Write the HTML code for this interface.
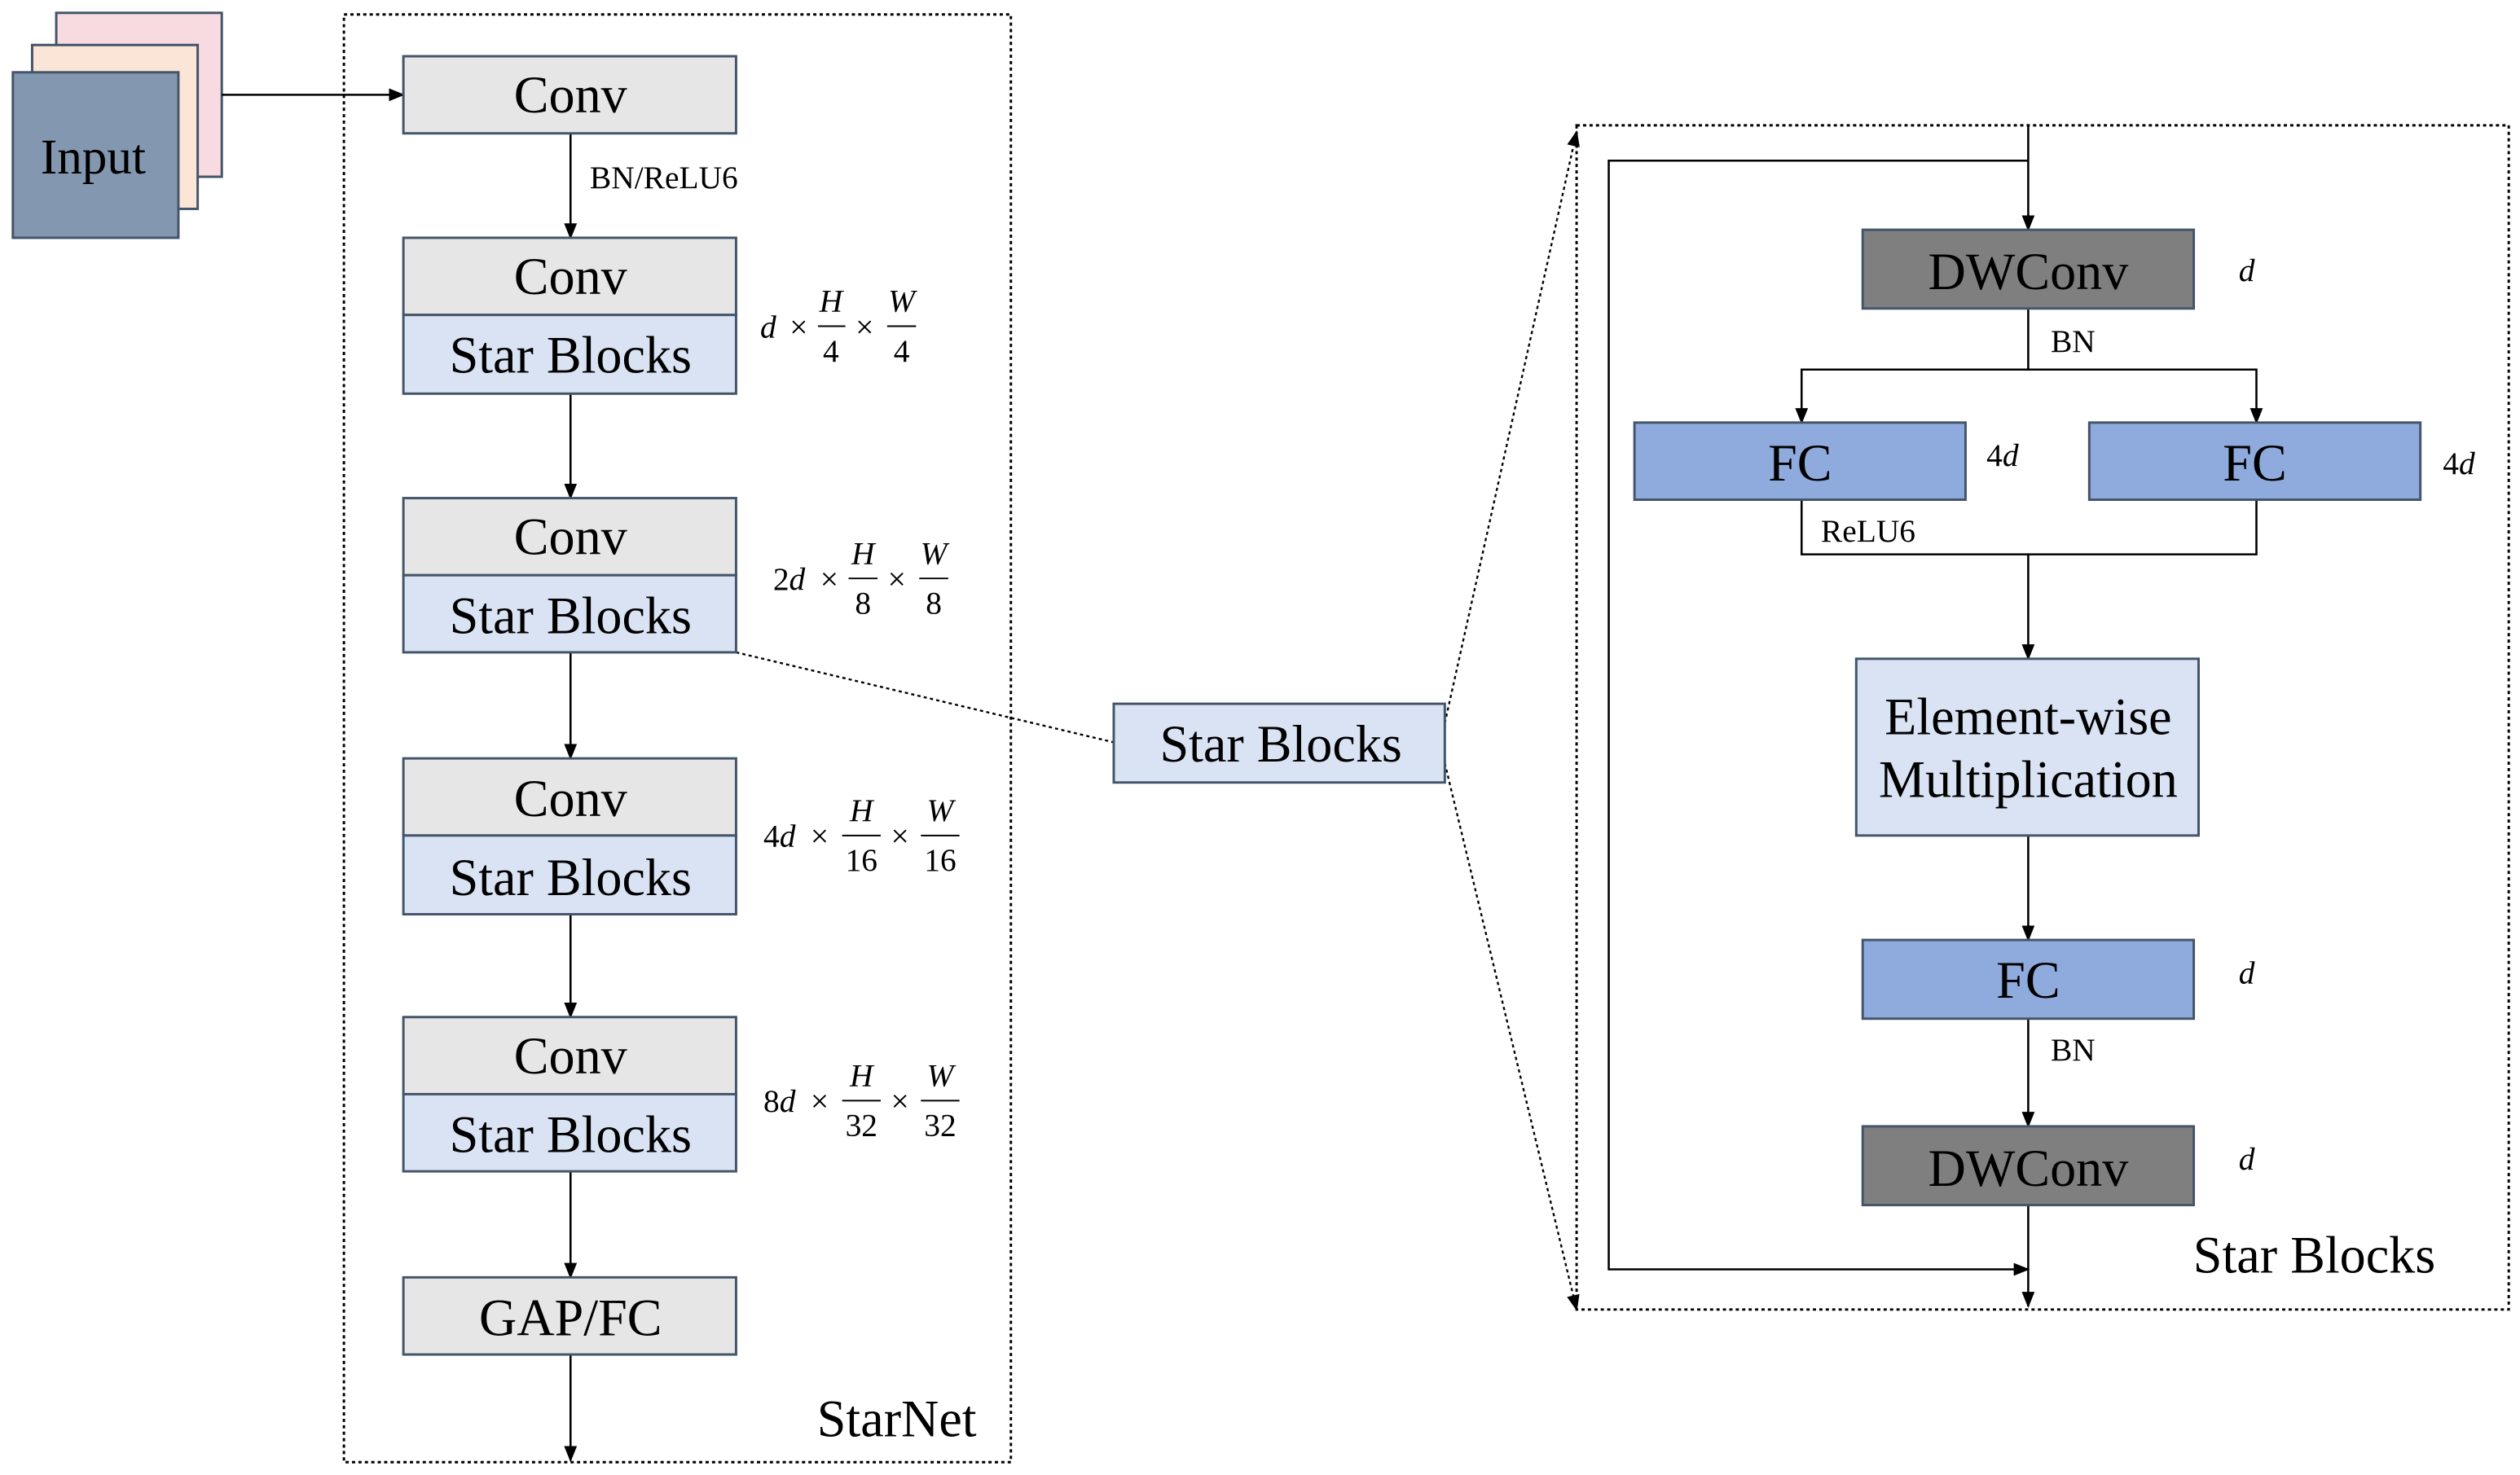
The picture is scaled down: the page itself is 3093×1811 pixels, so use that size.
<!DOCTYPE html>
<html><head><meta charset="utf-8"><style>html,body{margin:0;padding:0;background:#fff}svg{display:block}</style></head>
<body>
<svg width="3093" height="1811" viewBox="0 0 1568 918" preserveAspectRatio="none" xmlns="http://www.w3.org/2000/svg" font-family="Liberation Serif, serif">
<defs><marker id="a" markerWidth="10" markerHeight="10" refX="9" refY="5" orient="auto" markerUnits="userSpaceOnUse"><path d="M0,1 L10,5 L0,9 z" fill="#000"/></marker></defs>
<g stroke="#44546a" stroke-width="1.5">
<rect x="35" y="8" width="103" height="102" fill="#f8dbe1"/>
<rect x="20" y="28" width="103" height="102" fill="#fbe5d6"/>
<rect x="8" y="45" width="103" height="103" fill="#8497b0"/>
</g>
<text x="58" y="108" font-size="31" text-anchor="middle">Input</text>
<g stroke="#000" stroke-width="1.3" fill="none" marker-end="url(#a)">
<line x1="138" y1="59" x2="251" y2="59"/>
<line x1="355" y1="83" x2="355" y2="148"/>
<line x1="355" y1="245" x2="355" y2="310"/>
<line x1="355" y1="406" x2="355" y2="472"/>
<line x1="355" y1="569" x2="355" y2="633"/>
<line x1="355" y1="729" x2="355" y2="795"/>
<line x1="355" y1="843" x2="355" y2="909"/>
<line x1="1262" y1="78" x2="1262" y2="143"/>
<polyline points="1262,100 1001,100 1001,790 1262,790"/>
<polyline points="1262,192 1262,230 1121,230 1121,263"/>
<polyline points="1262,230 1404,230 1404,263"/>
<line x1="1262" y1="345" x2="1262" y2="410"/>
<line x1="1262" y1="520" x2="1262" y2="585"/>
<line x1="1262" y1="634" x2="1262" y2="701"/>
<line x1="1262" y1="750" x2="1262" y2="813"/>
</g>
<polyline points="1121,311 1121,345 1404,345 1404,311" stroke="#000" stroke-width="1.3" fill="none"/>
<rect x="214" y="9" width="415" height="901" fill="none" stroke="#000" stroke-width="1.5" stroke-dasharray="2,2"/>
<rect x="981" y="78" width="580" height="737" fill="none" stroke="#000" stroke-width="1.5" stroke-dasharray="2,2"/>
<g stroke="#000" stroke-width="1.2" stroke-dasharray="2,2" fill="none">
<line x1="458" y1="406" x2="693" y2="462"/>
<line x1="899" y1="450" x2="981" y2="82" marker-end="url(#a)"/>
<line x1="899" y1="475" x2="981" y2="815" marker-end="url(#a)"/>
</g>
<g stroke="#44546a" stroke-width="1.5">
<rect x="251" y="35" width="207" height="48" fill="#e7e6e6"/>
<rect x="251" y="148" width="207" height="48" fill="#e7e6e6"/><rect x="251" y="196" width="207" height="49" fill="#dae3f3"/>
<rect x="251" y="310" width="207" height="48" fill="#e7e6e6"/><rect x="251" y="358" width="207" height="48" fill="#dae3f3"/>
<rect x="251" y="472" width="207" height="48" fill="#e7e6e6"/><rect x="251" y="520" width="207" height="49" fill="#dae3f3"/>
<rect x="251" y="633" width="207" height="48" fill="#e7e6e6"/><rect x="251" y="681" width="207" height="48" fill="#dae3f3"/>
<rect x="251" y="795" width="207" height="48" fill="#e7e6e6"/>
<rect x="693" y="438" width="206" height="49" fill="#dae3f3"/>
<rect x="1159" y="143" width="206" height="49" fill="#7f7f7f"/>
<rect x="1017" y="263" width="206" height="48" fill="#8faadc"/>
<rect x="1300" y="263" width="206" height="48" fill="#8faadc"/>
<rect x="1155" y="410" width="213" height="110" fill="#dae3f3"/>
<rect x="1159" y="585" width="206" height="49" fill="#8faadc"/>
<rect x="1159" y="701" width="206" height="49" fill="#7f7f7f"/>
</g>
<g font-size="32.5" text-anchor="middle">
<text x="355" y="70">Conv</text>
<text x="355" y="183">Conv</text><text x="355" y="232">Star Blocks</text>
<text x="355" y="345">Conv</text><text x="355" y="394">Star Blocks</text>
<text x="355" y="508">Conv</text><text x="355" y="557">Star Blocks</text>
<text x="355" y="668">Conv</text><text x="355" y="717">Star Blocks</text>
<text x="355" y="831">GAP/FC</text>
<text x="797" y="474">Star Blocks</text>
<text x="1262" y="180">DWConv</text>
<text x="1120" y="299">FC</text><text x="1403" y="299">FC</text>
<text x="1262" y="457">Element-wise</text><text x="1262" y="496">Multiplication</text>
<text x="1262" y="621">FC</text>
<text x="1262" y="738">DWConv</text>
<text x="558" y="894">StarNet</text>
<text x="1440" y="792">Star Blocks</text>
</g>
<g font-size="20">
<text x="367" y="117">BN/ReLU6</text>
<text x="1276" y="219">BN</text>
<text x="1133" y="337">ReLU6</text>
<text x="1276" y="660">BN</text>
</g>
<g font-size="20" font-style="italic">
<text x="1393" y="175">d</text><text x="1393" y="612">d</text><text x="1393" y="728">d</text>
<text x="1236" y="290"><tspan font-style="normal">4</tspan>d</text>
<text x="1520" y="295"><tspan font-style="normal">4</tspan>d</text>
</g>
<g font-size="20" font-style="italic" text-anchor="middle">
<text x="478" y="210">d</text><text x="497" y="210" font-style="normal">×</text>
<text x="517" y="194">H</text><line x1="509" y1="203" x2="526" y2="203" stroke="#000"/><text x="517" y="225" font-style="normal">4</text>
<text x="538" y="210" font-style="normal">×</text>
<text x="561" y="194">W</text><line x1="552" y1="203" x2="570" y2="203" stroke="#000"/><text x="561" y="225" font-style="normal">4</text>
<text x="491" y="367"><tspan font-style="normal">2</tspan>d</text><text x="516" y="367" font-style="normal">×</text>
<text x="537" y="351">H</text><line x1="528" y1="360" x2="546" y2="360" stroke="#000"/><text x="537" y="382" font-style="normal">8</text>
<text x="558" y="367" font-style="normal">×</text>
<text x="581" y="351">W</text><line x1="572" y1="360" x2="590" y2="360" stroke="#000"/><text x="581" y="382" font-style="normal">8</text>
<text x="485" y="527"><tspan font-style="normal">4</tspan>d</text><text x="510" y="527" font-style="normal">×</text>
<text x="536" y="511">H</text><line x1="524" y1="520" x2="548" y2="520" stroke="#000"/><text x="536" y="542" font-style="normal">16</text>
<text x="560" y="527" font-style="normal">×</text>
<text x="585" y="511">W</text><line x1="573" y1="520" x2="597" y2="520" stroke="#000"/><text x="585" y="542" font-style="normal">16</text>
<text x="485" y="692"><tspan font-style="normal">8</tspan>d</text><text x="510" y="692" font-style="normal">×</text>
<text x="536" y="676">H</text><line x1="524" y1="685" x2="548" y2="685" stroke="#000"/><text x="536" y="707" font-style="normal">32</text>
<text x="560" y="692" font-style="normal">×</text>
<text x="585" y="676">W</text><line x1="573" y1="685" x2="597" y2="685" stroke="#000"/><text x="585" y="707" font-style="normal">32</text>
</g>
</svg>
</body></html>
